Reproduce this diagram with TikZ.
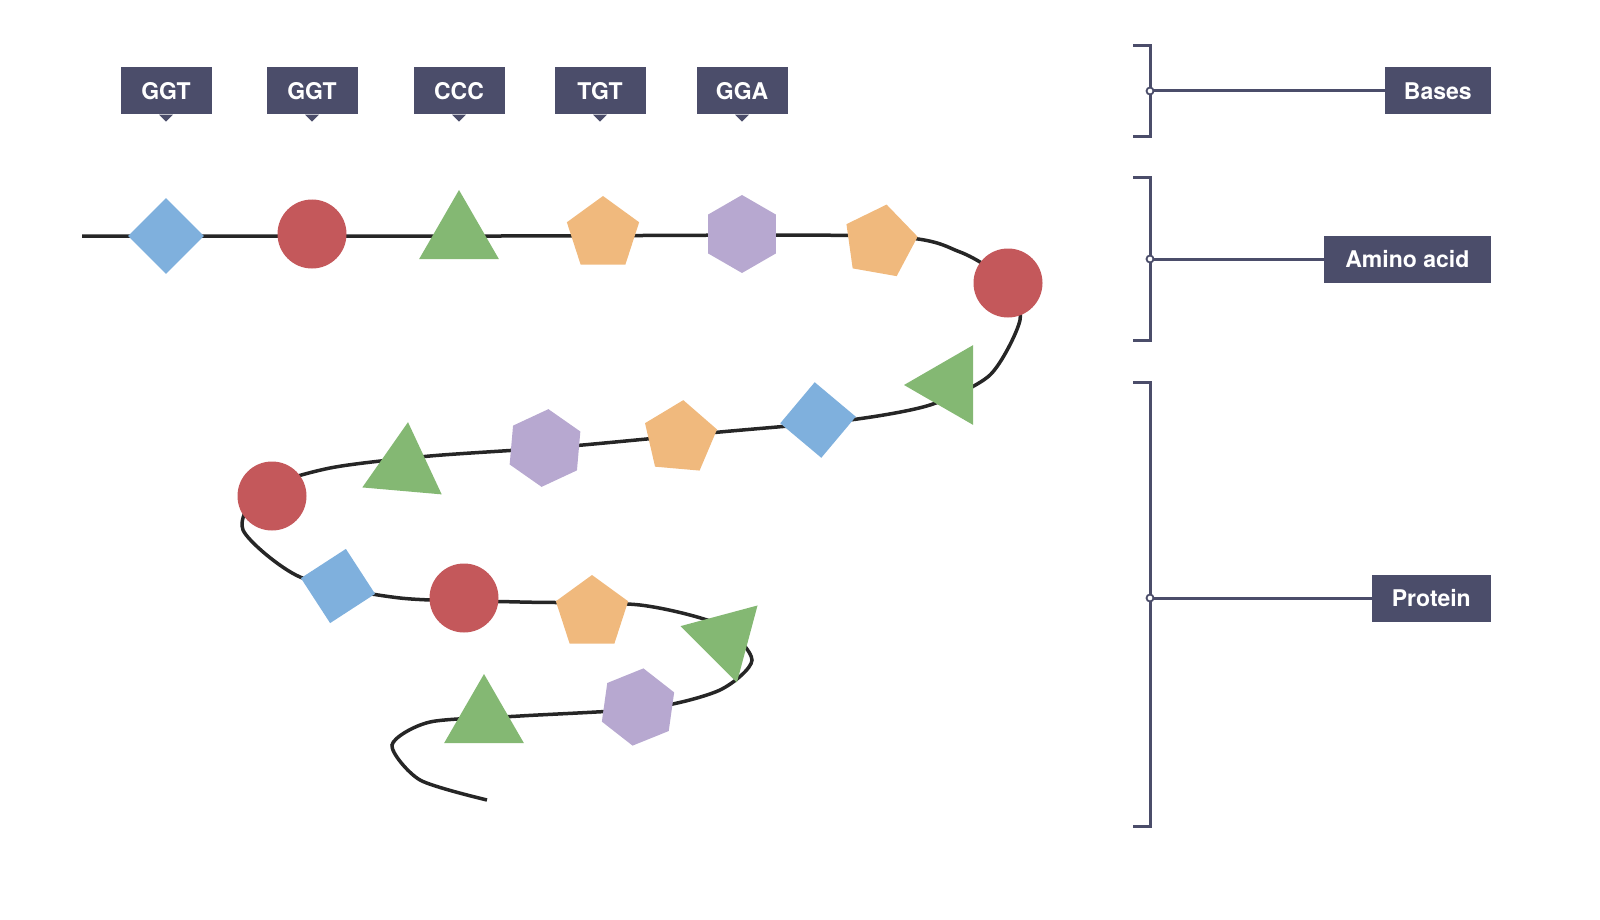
\documentclass[tikz,border=0pt]{standalone}
\usepackage{fontspec}
\setmainfont{TeX Gyre Heros}
\usetikzlibrary{shapes.geometric}
\definecolor{dk}{HTML}{4B4D6A}
\definecolor{cb}{HTML}{7FB0DD}
\definecolor{cr}{HTML}{C4585B}
\definecolor{cg}{HTML}{84B873}
\definecolor{co}{HTML}{F0B97D}
\definecolor{cp}{HTML}{B7A8D0}
\tikzset{
 lbl/.style={fill=dk,text=white,font=\bfseries\fontsize{23}{23}\selectfont,minimum height=47pt,inner xsep=0pt,inner sep=0pt},
 dia/.style={fill=cb,diamond,minimum size=76pt,inner sep=0pt},
 circ/.style={fill=cr,circle,minimum size=69pt,inner sep=0pt},
 tri/.style={fill=cg,regular polygon,regular polygon sides=3,minimum size=92pt,inner sep=0pt},
 pent/.style={fill=co,regular polygon,regular polygon sides=5,minimum size=76pt,inner sep=0pt},
 hex/.style={fill=cp,regular polygon,regular polygon sides=6,minimum size=78pt,inner sep=0pt},
 brk/.style={draw=dk,line width=3pt},
}
\begin{document}
\begin{tikzpicture}[x=1pt,y=-1pt]
\useasboundingbox (0,0) rectangle (1600,920);
\draw[line width=3.5pt,color=black!85] plot[smooth,tension=0.45] coordinates{(82,236) (500,236) (880,236) (960,252) (1008,283) (1020,320) (990,375) (930,405) (850,420) (720,432) (560,447) (430,456) (330,468) (262,490) (243,530) (300,577) (400,598) (520,602) (640,605) (720,625) (752,660) (720,690) (650,708) (520,716) (430,722) (392,745) (420,780) (487,800)};
\node[dia] (s1) at (166,236) {};
\node[circ] (s2) at (312,234) {};
\node[tri] (s3) at (459,236) {};
\node[pent] (s4) at (603,234) {};
\node[hex,rotate=30] (s5) at (742,234) {};
\node[pent,rotate=-10] (s6) at (880,242) {};
\node[circ] (s7) at (1008,283) {};
\node[tri,rotate=90] (s8) at (950,385) {};
\node[dia,rotate=5] (s9) at (818,420) {};
\node[pent,rotate=-5] (s10) at (680,438) {};
\node[hex,rotate=25] (s11) at (545,448) {};
\node[tri,rotate=-5] (s12) at (404,468) {};
\node[circ] (s13) at (272,496) {};
\node[dia,rotate=-12] (s14) at (338,586) {};
\node[circ] (s15) at (464,598) {};
\node[pent] (s16) at (592,613) {};
\node[tri,rotate=75] (s17) at (725,638) {};
\node[hex,rotate=22] (s18) at (638,707) {};
\node[tri] (s19) at (484,720) {};
\foreach \n/\x/\t in {c1/166/GGT,c2/312/GGT,c3/459/CCC,c4/600/TGT,c5/742/GGA}{
 \node[lbl,minimum width=91pt] (\n) at (\x,91) {\t};
 \fill[dk] (\n.south) ++(-7,0) -- ++(14,0) -- ++(-7,7) -- cycle;
}
\draw[brk] (1133,46) -- (1150,46) -- (1150,137) -- (1133,137);
\draw[brk] (1133,178) -- (1150,178) -- (1150,340) -- (1133,340);
\draw[brk] (1133,382) -- (1150,382) -- (1150,826) -- (1133,826);
\node[lbl,minimum width=106pt,anchor=east] (b) at (1491,91) {Bases};
\node[lbl,minimum width=167pt,anchor=east] (a) at (1491,259) {Amino acid};
\node[lbl,minimum width=119pt,anchor=east] (p) at (1491,598) {Protein};
\coordinate (kb) at (1150,91);
\coordinate (ka) at (1150,259);
\coordinate (kp) at (1150,598);
\draw[brk] (kb) -- (b.west);
\draw[brk] (ka) -- (a.west);
\draw[brk] (kp) -- (p.west);
\foreach \k in {kb,ka,kp}{\draw[dk,line width=1.8pt,fill=white] (\k) circle (3.5pt);}
\end{tikzpicture}
\end{document}
